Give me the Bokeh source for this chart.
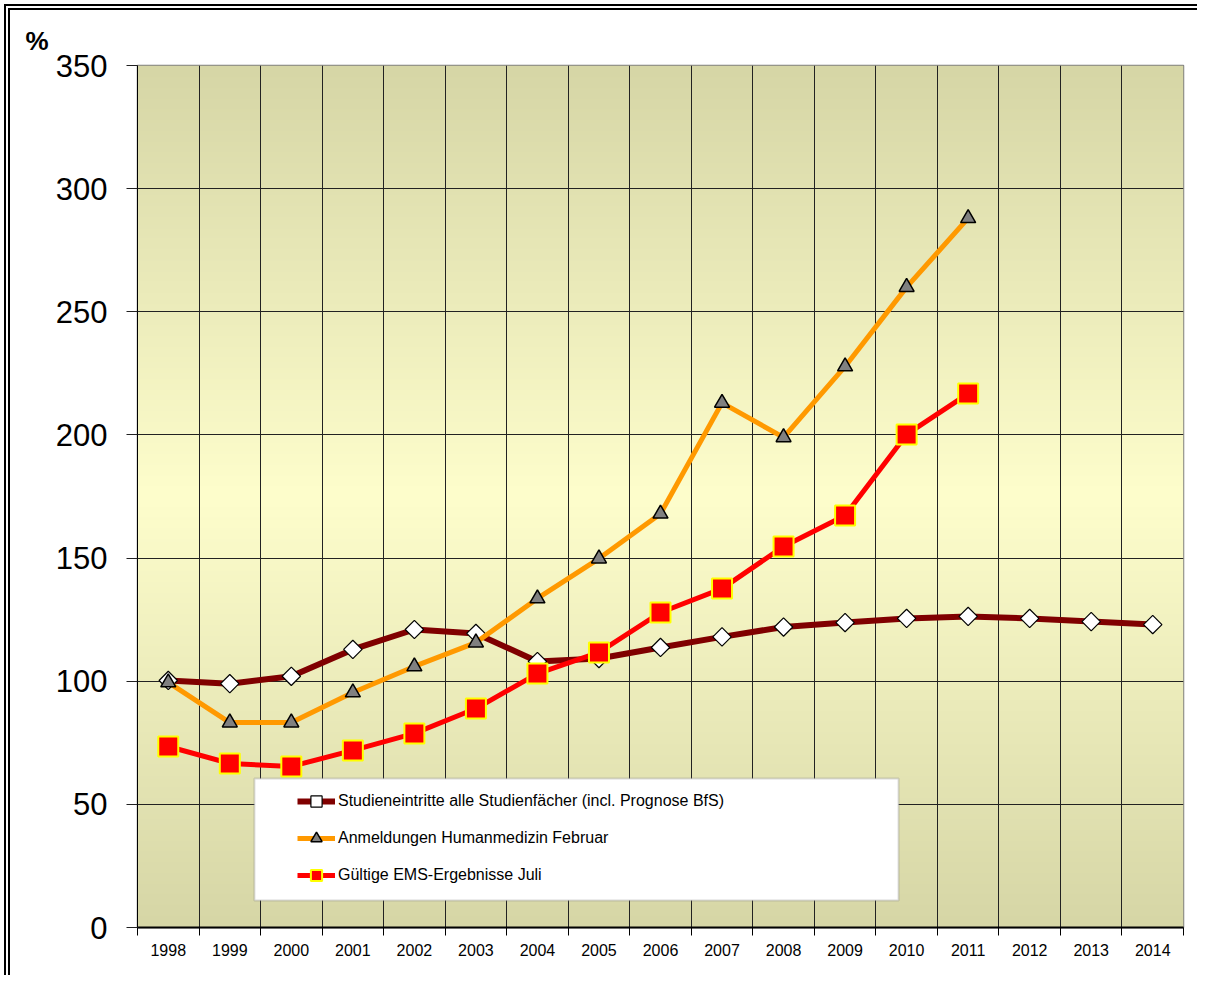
import numpy as np
from bokeh.plotting import figure
from bokeh.models import FixedTicker, Range1d, Legend, LegendItem, Title, BoxAnnotation
from bokeh.embed import file_html
from bokeh.resources import INLINE

# ---------------- data ----------------
years = [str(y) for y in range(1998, 2015)]
studieneintritte = [100.3, 99.0, 102.0, 112.9, 121.0, 119.4, 108.0, 109.2, 113.7,
                    118.0, 122.0, 123.8, 125.5, 126.3, 125.5, 124.2, 123.0]
anmeldungen = [99.5, 83.2, 83.2, 95.4, 106.0, 115.7, 133.6, 149.8, 168.0,
               213.0, 199.0, 227.8, 260.0, 288.0]
ems = [73.5, 66.6, 65.4, 71.9, 78.8, 88.9, 103.1, 111.7, 127.9,
       137.6, 154.7, 167.3, 200.2, 216.8]
y_ticks = [0, 50, 100, 150, 200, 250, 300, 350]
labels = ["Studieneintritte alle Studienfächer (incl. Prognose BfS)",
          "Anmeldungen Humanmedizin Februar",
          "Gültige EMS-Ergebnisse Juli"]

FONT = "Liberation Sans"
n = len(years)
centers = [i + 0.5 for i in range(n)]
bounds = list(range(n + 1))

p = figure(frame_width=1046, frame_height=862,
           x_range=Range1d(0, n), y_range=Range1d(0, 350),
           output_backend="svg", toolbar_location=None,
           min_border_left=127, min_border_top=55, min_border_right=14, min_border_bottom=48)
p.styles = {"border-left": "6px double black", "border-top": "6px double black",
            "margin-left": "4px", "margin-top": "4px"}
p.background_fill_color = "white"
p.border_fill_color = "white"
p.outline_line_color = "#7f7f7f"
p.outline_line_width = 1.5

# "%" unit label at top-left
p.add_layout(Title(text="%", align="left", offset=-112, standoff=20,
                   text_font=FONT, text_font_size="26px", text_font_style="bold",
                   text_color="black"), "above")

# gradient background of the plotting area
rows = 700
vals = np.linspace(0, 350, rows)
t = np.abs(vals - 175) / 175.0
edge = np.array([214, 214, 166], dtype=float)
mid = np.array([254, 254, 204], dtype=float)
cols = mid[None, :] * (1 - t[:, None]) + edge[None, :] * t[:, None]
img = np.zeros((rows, 1), dtype=np.uint32)
view = img.view(dtype=np.uint8).reshape((rows, 1, 4))
view[:, 0, 0] = cols[:, 0].astype(np.uint8)
view[:, 0, 1] = cols[:, 1].astype(np.uint8)
view[:, 0, 2] = cols[:, 2].astype(np.uint8)
view[:, 0, 3] = 255
p.image_rgba(image=[img], x=0, y=0, dw=n, dh=350, level="image")

# grids
p.xgrid.ticker = FixedTicker(ticks=bounds)
p.ygrid.ticker = FixedTicker(ticks=y_ticks)
for g in (p.xgrid, p.ygrid):
    g.grid_line_color = "#222222"
    g.grid_line_width = 1

# x axis
xa = p.xaxis[0]
xa.ticker = FixedTicker(ticks=centers, minor_ticks=bounds)
xa.major_label_overrides = {c: y for c, y in zip(centers, years)}
xa.major_tick_line_color = None
xa.major_tick_out = 0
xa.major_tick_in = 0
xa.minor_tick_out = 8
xa.minor_tick_in = 0
xa.minor_tick_line_color = "black"
xa.axis_line_color = "black"
xa.axis_line_width = 2
xa.major_label_text_font = FONT
xa.major_label_text_font_size = "16px"
xa.major_label_text_color = "black"
xa.major_label_standoff = 8

# y axis
ya = p.yaxis[0]
ya.ticker = FixedTicker(ticks=y_ticks)
ya.major_tick_out = 11
ya.major_tick_in = 0
ya.minor_tick_line_color = None
ya.axis_line_color = "black"
ya.major_tick_line_color = "#222222"
ya.major_label_text_font = FONT
ya.major_label_text_font_size = "31px"
ya.major_label_text_color = "black"
ya.major_label_standoff = 19

# series
l1 = p.line(centers[:len(studieneintritte)], studieneintritte, line_color="#800000", line_width=6)
s1 = p.scatter(centers[:len(studieneintritte)], studieneintritte, marker="square", angle=np.pi / 4,
               size=13, fill_color="white", line_color="black", line_width=1.2)
l2 = p.line(centers[:len(anmeldungen)], anmeldungen, line_color="#FF9900", line_width=5)
s2 = p.scatter(centers[:len(anmeldungen)], anmeldungen, marker="triangle",
               size=15, fill_color="#808080", line_color="black", line_width=1.5)
l3 = p.line(centers[:len(ems)], ems, line_color="#FF0000", line_width=5)
s3 = p.scatter(centers[:len(ems)], ems, marker="square",
               size=20, fill_color="#FF0000", line_color="#FFFF00", line_width=2)

# legend box
box = BoxAnnotation(left=1.90, right=12.37, bottom=11.0, top=60.5,
                    fill_color="white", fill_alpha=1.0, line_color="#808080", line_width=2)
p.add_layout(box)

legend = Legend(items=[LegendItem(label=labels[0], renderers=[l1, s1]),
                       LegendItem(label=labels[1], renderers=[l2, s2]),
                       LegendItem(label=labels[2], renderers=[l3, s3])],
                location=(160, 38), padding=0, margin=0, spacing=9,
                glyph_width=38, glyph_height=28, label_height=28, label_standoff=3,
                label_text_font=FONT, label_text_font_size="16px", label_text_color="black",
                background_fill_alpha=0, border_line_color=None)
p.add_layout(legend)

open("out.html", "w").write(file_html(p, INLINE))
